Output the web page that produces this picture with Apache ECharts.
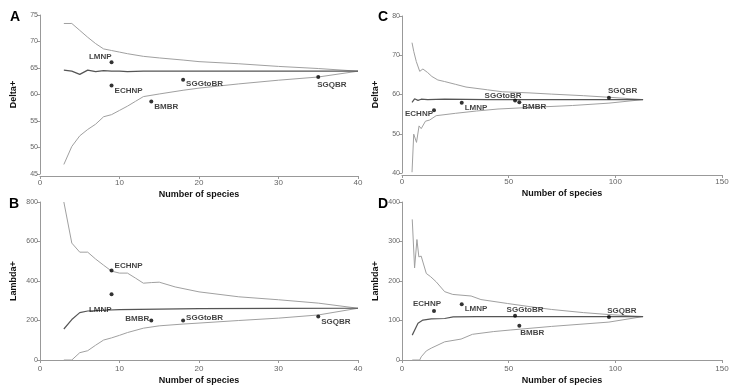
<!DOCTYPE html>
<html>
<head>
<meta charset="utf-8">
<script src="https://cdn.jsdelivr.net/npm/echarts@6/dist/echarts.min.js"></script>
<style>
  html, body { margin: 0; padding: 0; background: #fff; }
  #chart { width: 736px; height: 390px; }
</style>
</head>
<body>
<div id="chart"></div>
<script>
  // sites and their [species, value] positions
  var sites = ['LMNP', 'ECHNP', 'BMBR', 'SGGtoBR', 'SGQBR']
  var speciesA = [9, 9, 14, 18, 35]
  var deltaA = [66.1, 61.7, 58.7, 62.8, 63.3]
  var lambdaA = [333, 453, 200, 200, 220]
  var speciesC = [28, 15, 55, 53, 97]
  var deltaC = [57.9, 56.0, 58.0, 58.5, 59.2]
  var lambdaC = [141, 124, 87, 112, 109]

  // funnel curves (A/B: 40 species pool, C/D: 113 species pool)
  var deltaAUpper = [[3,73.4],[4,73.4],[5,72.1],[6,70.8],[7,69.6],[8,68.6],[9,68.3],[10,68],[11,67.7],[13,67.2],[15,66.9],[18,66.5],[20,66.2],[25,65.8],[30,65.3],[35,64.9],[40,64.4]]
  var deltaAMean = [[3,64.6],[4,64.4],[5,63.8],[6,64.6],[7,64.3],[8,64.5],[9,64.4],[10,64.4],[11,64.3],[13,64.4],[20,64.4],[30,64.4],[40,64.4]]
  var deltaALower = [[3,46.8],[4,50.2],[5,52.2],[6,53.4],[7,54.4],[8,55.8],[9,56.2],[10,57],[11,57.8],[12,58.7],[13,59.6],[15,60.1],[18,60.8],[20,61.2],[25,62],[30,62.7],[35,63.3],[40,64.4]]

  var lambdaAUpper = [[3,800],[4,592],[5,546],[6,546],[7,511],[8,480],[9,450],[10,440],[11,440],[12,415],[13,389],[14,392],[15,394],[17,370],[20,345],[25,320],[30,305],[35,288],[40,262]]
  var lambdaAMean = [[3,157],[4,205],[5,240],[6,248],[8,252],[10,255],[15,258],[20,260],[30,261],[40,262]]
  var lambdaALower = [[3,0],[4,0],[5,37],[6,47],[7,75],[8,101],[9,112],[10,125],[11,139],[13,161],[15,173],[18,182],[20,187],[25,200],[30,212],[35,228],[40,262]]

  var deltaCUpper = [[4.7,73.2],[5.5,71],[6.7,68.4],[8.3,65.9],[9.8,66.5],[12,65.6],[14,64.6],[16.8,63.7],[20,63.3],[25,62.6],[30,61.9],[40,61.2],[47,60.7],[60,60.4],[70,60.1],[85,59.7],[97,59.3],[113,58.7]]
  var deltaCMean = [[4.7,58],[5.9,58.9],[7.5,58.5],[9,58.8],[12,58.7],[20,58.8],[40,58.7],[113,58.7]]
  var deltaCLower = [[4.7,40.2],[5.5,49.9],[6.8,47.8],[8,52],[9,51.3],[11,53.2],[13,53.5],[16,54.6],[25,55.2],[35,55.8],[45,56.3],[60,56.7],[80,57.2],[97,57.8],[113,58.7]]

  var lambdaCUpper = [[4.8,356],[5.9,233],[7,305],[7.9,261],[9,263],[9.8,248],[11.4,219],[13.4,211],[16,198],[20,173],[23.8,166],[32.4,162],[37,153],[49.5,143],[60,135],[70,128],[85,120],[97,115],[113,110]]
  var lambdaCMean = [[4.8,63],[7.5,93],[9.8,101],[13.7,104],[20,105],[24,109],[35,110],[113,110]]
  var lambdaCLower = [[4.8,0],[8.3,0],[9,8],[9.8,11],[11.4,23],[13.7,30],[20,46],[27.7,53],[33,65],[43,72],[51,76],[70,85],[97,96],[113,110]]

  // label placement per panel: [position, offsetX, offsetY]
  var labelPos = {
    A: {LMNP: ['left', 3, -5], ECHNP: ['right', 0, 5], BMBR: ['right', 0, 5], SGGtoBR: ['right', 0, 4], SGQBR: ['right', -4, 8]},
    B: {LMNP: ['left', 3, 16], ECHNP: ['right', 0, -5], BMBR: ['left', 1, -2], SGGtoBR: ['right', 0, -3], SGQBR: ['right', 0, 5]},
    C: {LMNP: ['right', 0, 5], ECHNP: ['left', 2, 4], BMBR: ['right', 0, 4], SGGtoBR: ['top', -12, 2], SGQBR: ['right', -4, -7]},
    D: {LMNP: ['right', 0, 4], ECHNP: ['top', -7, 0], BMBR: ['right', -2, 7], SGGtoBR: ['top', 10, 1], SGQBR: ['top', 13, 1]}
  }

  function sitePoints(xs, ys, panel) {
    return sites.map(function (s, i) {
      var p = labelPos[panel][s]
      return {
        name: s,
        value: [xs[i], ys[i]],
        label: { position: p[0], distance: 1, offset: [p[1], p[2]] }
      }
    })
  }

  var font = 'Liberation Sans, Arial, sans-serif'

  function xAx(idx, max, interval) {
    return {
      gridIndex: idx, type: 'value', min: 0, max: max, interval: interval,
      offset: 2,
      name: 'Number of species', nameLocation: 'middle', nameGap: 14,
      nameTextStyle: { color: '#111', fontSize: 9, fontWeight: 'bold', fontFamily: font },
      axisLine: { lineStyle: { color: '#999', width: 1 } },
      axisTick: { length: 3, lineStyle: { color: '#999' } },
      axisLabel: { color: '#666', fontSize: 8, margin: 3, fontFamily: font },
      splitLine: { show: false }
    }
  }
  function yAx(idx, name, min, max, interval) {
    return {
      gridIndex: idx, type: 'value', min: min, max: max, interval: interval,
      name: name, nameLocation: 'middle', nameGap: 22,
      nameTextStyle: { color: '#111', fontSize: 9, fontWeight: 'bold', fontFamily: font },
      axisLine: { show: true, lineStyle: { color: '#999', width: 1 } },
      axisTick: { show: true, length: 3, lineStyle: { color: '#999' } },
      axisLabel: { color: '#666', fontSize: 7, margin: 2, fontFamily: font },
      splitLine: { show: false }
    }
  }
  function curve(idx, data, dark) {
    return {
      type: 'line', xAxisIndex: idx, yAxisIndex: idx, data: data,
      showSymbol: false, silent: true,
      lineStyle: { color: dark ? '#555' : '#a0a0a0', width: dark ? 1.2 : 1 }
    }
  }
  function dots(idx, data) {
    return {
      type: 'scatter', xAxisIndex: idx, yAxisIndex: idx, data: data,
      symbolSize: 4, itemStyle: { color: '#000' }, z: 5,
      label: {
        show: true, formatter: '{b}', color: '#111', fontSize: 8,
        fontWeight: 'bold', fontFamily: font
      }
    }
  }

  function letter(t, x, y) {
    return { type: 'text', left: x, top: y, style: { text: t, fontSize: 14, fontWeight: 'bold', fill: '#000', fontFamily: font } }
  }

  var chart = echarts.init(document.getElementById('chart'), null, { renderer: 'canvas' })
  var option = {
    animation: false,
    backgroundColor: '#fff',
    grid: [
      { left: 40, right: 378, top: 15, bottom: 216 },
      { left: 40, right: 378, top: 202, bottom: 30 },
      { left: 402, right: 14, top: 16, bottom: 217 },
      { left: 402, right: 14, top: 202, bottom: 30 }
    ],
    xAxis: [xAx(0, 40, 10), xAx(1, 40, 10), xAx(2, 150, 50), xAx(3, 150, 50)],
    yAxis: [
      yAx(0, 'Delta+', 45, 75, 5),
      yAx(1, 'Lambda+', 0, 800, 200),
      yAx(2, 'Delta+', 40, 80, 10),
      yAx(3, 'Lambda+', 0, 400, 100)
    ],
    graphic: [
      letter('A', 10, 10),
      letter('B', 9, 197),
      letter('C', 378, 10),
      letter('D', 378, 197)
    ],
    series: [
      curve(0, deltaAUpper), curve(0, deltaALower), curve(0, deltaAMean, true),
      dots(0, sitePoints(speciesA, deltaA, 'A')),
      curve(1, lambdaAUpper), curve(1, lambdaALower), curve(1, lambdaAMean, true),
      dots(1, sitePoints(speciesA, lambdaA, 'B')),
      curve(2, deltaCUpper), curve(2, deltaCLower), curve(2, deltaCMean, true),
      dots(2, sitePoints(speciesC, deltaC, 'C')),
      curve(3, lambdaCUpper), curve(3, lambdaCLower), curve(3, lambdaCMean, true),
      dots(3, sitePoints(speciesC, lambdaC, 'D'))
    ]
  }
  chart.setOption(option)
</script>
</body>
</html>
